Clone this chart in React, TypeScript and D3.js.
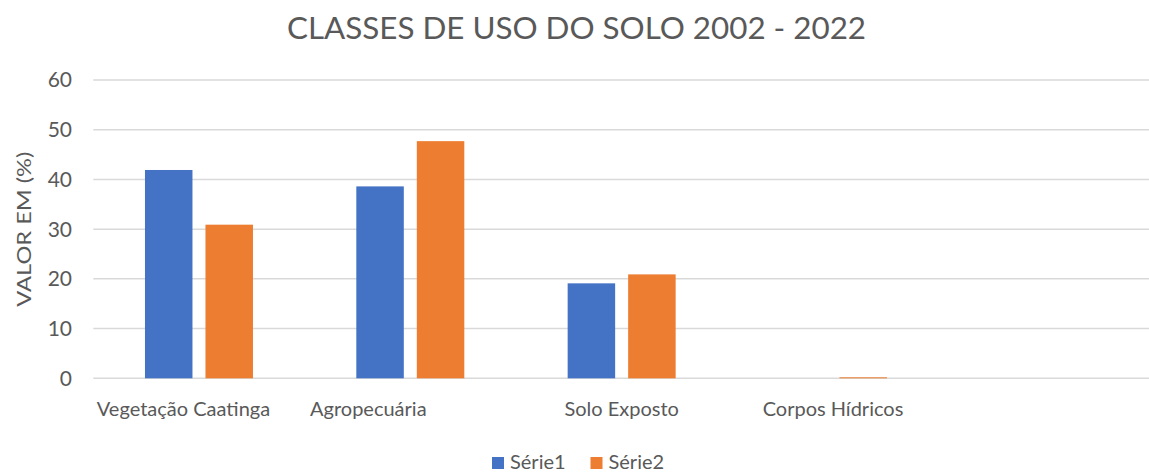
import React from "react";
import * as d3 from "d3";

const title = "CLASSES DE USO DO SOLO 2002 - 2022";
const yAxisTitle = "VALOR EM (%)";
const categories = ["Vegetação Caatinga", "Agropecuária", "Solo Exposto", "Corpos Hídricos", ""];
const seriesNames = ["Série1", "Série2"];
const serie1 = [41.9, 38.6, 19.1, 0, 0];
const serie2 = [30.9, 47.7, 20.9, 0.2, 0];
const yTicks = [0, 10, 20, 30, 40, 50, 60];
const colors = ["#4472C4", "#ED7D31"];

// layout (not data)
const W = 1149;
const H = 472;
const plotLeft = 93.3;
const plotRight = 1150;
const plotTop = 80;
const plotBottom = 378.3;
const labelShift = [-15.5, -42, 0, 0, 0];
const FONT = "Lato, 'Open Sans', sans-serif";
const TEXT = "#595959";
const GRID = "#D9D9D9";

export default function App() {
  const x = d3.scaleBand<string>().domain(categories).range([plotLeft, plotRight]).paddingInner(0).paddingOuter(0);
  const y = d3.scaleLinear().domain([0, 60]).range([plotBottom, plotTop]);
  const groupW = 108;
  const x1 = d3.scaleBand<string>().domain(seriesNames).range([-groupW / 2, groupW / 2]).paddingInner(0.215).paddingOuter(0);
  const series = [serie1, serie2];

  return (
    <div style={{ position: "absolute", left: 0, top: 0 }}>
      <svg width={W} height={H} style={{ display: "block", background: "#fff" }}>
        <text x={576.5} y={39} textAnchor="middle" fontFamily={FONT} fontSize={31} fill={TEXT} textLength={579} lengthAdjust="spacingAndGlyphs">
          {title}
        </text>
        {yTicks.map((t) => (
          <g key={t}>
            <line x1={plotLeft} x2={plotRight} y1={y(t)} y2={y(t)} stroke={GRID} strokeWidth={1.5} />
            <text x={72} y={y(t)} dy="0.35em" textAnchor="end" fontFamily={FONT} fontSize={21} fill={TEXT}>
              {t}
            </text>
          </g>
        ))}
        <text
          transform={`translate(31,${(plotTop + plotBottom) / 2}) rotate(-90)`}
          textAnchor="middle"
          fontFamily={FONT}
          fontSize={20}
          fill={TEXT}
          textLength={155}
          lengthAdjust="spacingAndGlyphs"
        >
          {yAxisTitle}
        </text>
        {categories.map((c, i) => {
          const cx = (x(c) as number) + x.bandwidth() / 2;
          return (
            <g key={"c" + i}>
              {series.map((s, j) => {
                const v = s[i];
                if (v <= 0) return null;
                const bx = cx + (x1(seriesNames[j]) as number);
                return (
                  <rect
                    key={j}
                    x={bx}
                    y={y(v)}
                    width={x1.bandwidth()}
                    height={y(0) - y(v)}
                    fill={colors[j]}
                  />
                );
              })}
              {c && (
                <text x={cx + labelShift[i]} y={416} textAnchor="middle" fontFamily={FONT} fontSize={20} fill={TEXT}>
                  {c}
                </text>
              )}
            </g>
          );
        })}
        {seriesNames.map((s, j) => {
          const lx = 492 + j * 98.5;
          return (
            <g key={s}>
              <rect x={lx} y={457} width={12} height={12} fill={colors[j]} />
              <text x={lx + 18} y={469} fontFamily={FONT} fontSize={20} fill={TEXT}>
                {s}
              </text>
            </g>
          );
        })}
      </svg>
    </div>
  );
}
